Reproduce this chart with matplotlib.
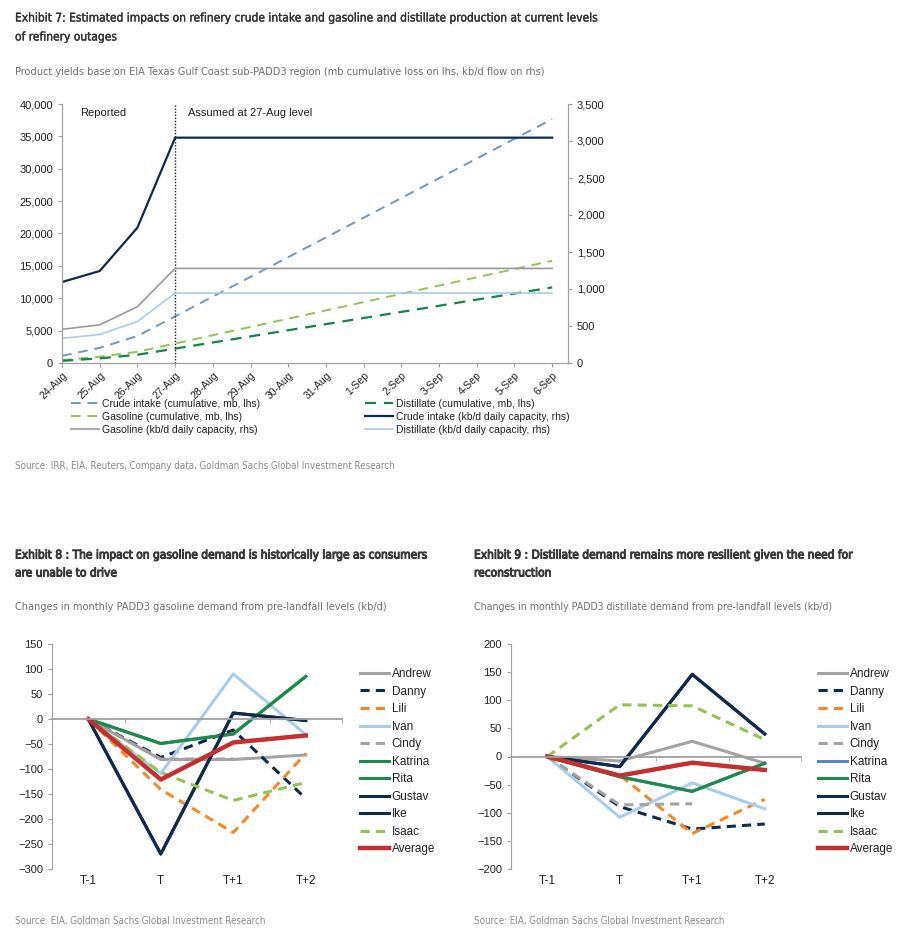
import numpy as np
import matplotlib
matplotlib.use("Agg")
import matplotlib.pyplot as plt
import matplotlib.transforms as mtransforms
import matplotlib.patheffects as pe
from matplotlib import font_manager

plt.rcParams['font.family'] = ['Liberation Sans', 'DejaVu Sans']

# pick a narrow face for titles if one is installed
cond = [f.fname for f in font_manager.fontManager.ttflist
        if 'Condensed' in f.fname or 'Narrow' in f.fname]
TITLE_PROPS = dict(family=['Roboto', 'DejaVu Sans'])
plain = [f for f in cond if not any(k in f for k in ('Bold', 'Oblique', 'Italic', 'Light', 'Thin'))]
if plain:
    TITLE_PROPS = dict(fontproperties=font_manager.FontProperties(fname=sorted(plain)[0]))

# ---- Exhibit 7 data ----
dates = ['24-Aug', '25-Aug', '26-Aug', '27-Aug', '28-Aug', '29-Aug', '30-Aug',
         '31-Aug', '1-Sep', '2-Sep', '3-Sep', '4-Sep', '5-Sep', '6-Sep']
# cumulative loss, lhs
crude_cum = [1100, 2340, 4170, 7210, 10260, 13300, 16350, 19390, 22440, 25480, 28530, 31570, 34620, 37660]
gasoline_cum = [455, 970, 1730, 3010, 4290, 5570, 6840, 8120, 9400, 10680, 11960, 13230, 14510, 15790]
distillate_cum = [333, 718, 1278, 2223, 3168, 4113, 5058, 6003, 6948, 7893, 8838, 9783, 10728, 11673]
# daily capacity, rhs
crude_cap = [1094, 1243, 1829, 3045, 3045, 3045, 3045, 3045, 3045, 3045, 3045, 3045, 3045, 3045]
gasoline_cap = [455, 516, 761, 1278, 1278, 1278, 1278, 1278, 1278, 1278, 1278, 1278, 1278, 1278]
distillate_cap = [333, 385, 560, 945, 945, 945, 945, 945, 945, 945, 945, 945, 945, 945]

# ---- Exhibit 8 / 9 data ----
periods = ['T-1', 'T', 'T+1', 'T+2']
storms = ['Andrew', 'Danny', 'Lili', 'Ivan', 'Cindy', 'Katrina', 'Rita', 'Gustav', 'Ike', 'Isaac', 'Average']
gasoline_demand = {
    'Andrew': [0, -81, -81, -72],
    'Danny': [0, -77, -22, -159],
    'Lili': [0, -141, -227, -69],
    'Ivan': [0, -109, 90, -31],
    'Cindy': [0, -80, -80, np.nan],
    'Katrina': [0, -49, -30, 85],
    'Rita': [0, -49, -30, 85],
    'Gustav': [0, -270, 12, -3],
    'Ike': [0, -270, 12, -3],
    'Isaac': [0, -107, -163, -127],
    'Average': [0, -121, -47, -33],
}
distillate_demand = {
    'Andrew': [0, -8, 27, -12],
    'Danny': [0, -89, -129, -120],
    'Lili': [0, -33, -137, -76],
    'Ivan': [0, -108, -47, -93],
    'Cindy': [0, -86, -84, np.nan],
    'Katrina': [0, -36, -62, -12],
    'Rita': [0, -36, -62, -12],
    'Gustav': [0, -18, 146, 40],
    'Ike': [0, -18, 146, 40],
    'Isaac': [0, 92, 90, 30],
    'Average': [0, -34, -11, -24],
}

NAVY = '#0e2a4e'
GRAY = '#a3a3a3'
LIGHTBLUE = '#a8cdeb'
ORANGE = '#f18a2a'
GREEN = '#1e8a4b'
LIGHTGREEN = '#92c353'
RED = '#c3302f'
STEEL = '#5b87c0'
AXIS_GRAY = '#a0a0a0'

W, H = 906, 942
fig = plt.figure(figsize=(W / 100, H / 100), dpi=100)


def rect(x0, y0, x1, y1):
    return [x0 / W, 1 - y1 / H, (x1 - x0) / W, (y1 - y0) / H]


def ftext(x, y, s, **kw):
    return fig.text(x / W, 1 - y / H, s, **TITLE_PROPS, **kw)


def fit(t, width):
    # shrink a text until it fits the reference width in pixels
    r = fig.canvas.get_renderer()
    for _ in range(30):
        if t.get_window_extent(r).width <= width:
            break
        t.set_fontsize(t.get_fontsize() * 0.97)


heavy = [pe.withStroke(linewidth=0.7, foreground='#3a3a3a')]
medium = [pe.withStroke(linewidth=0.25, foreground='#333333')]

# ---------------- Exhibit 7 ----------------
t = ftext(15, 18, 'Exhibit 7: Estimated impacts on refinery crude intake and gasoline and distillate production at current levels',
          fontsize=12, color='#333333', va='center', path_effects=medium)
fit(t, 600)
ftext(15, 37, 'of refinery outages', fontsize=t.get_fontsize(), color='#333333', va='center', path_effects=medium)
t = ftext(15, 72, 'Product yields base on EIA Texas Gulf Coast sub-PADD3 region (mb cumulative loss on lhs, kb/d flow on rhs)',
          fontsize=10, color='#6f6f6f', va='center')
fit(t, 535)
t = ftext(15, 466, 'Source: IRR, EIA, Reuters, Company data, Goldman Sachs Global Investment Research',
          fontsize=9.5, color='#8a8a8a', va='center')
fit(t, 387)

ax = fig.add_axes(rect(62, 104, 568, 363))
ax2 = ax.twinx()
x = np.arange(len(dates))
dash = (0, (5, 3.5))
h1, = ax.plot(x, crude_cum, color='#7096c9', lw=1.4, ls=dash)
h2, = ax.plot(x, gasoline_cum, color=LIGHTGREEN, lw=1.4, ls=dash)
h4, = ax.plot(x, distillate_cum, color='#16834a', lw=1.6, ls=dash)
h5, = ax2.plot(x, crude_cap, color=NAVY, lw=1.6)
h3, = ax2.plot(x, gasoline_cap, color='#9a9a9a', lw=1.2)
h6, = ax2.plot(x, distillate_cap, color=LIGHTBLUE, lw=1.2)
ax.axvline(3, color='#222222', lw=1.0, ls=(0, (1, 1.2)), zorder=5)

ax.set_xlim(0, 13.42)
ax.set_ylim(0, 40000)
ax2.set_ylim(0, 3500)
ax.set_yticks(np.arange(0, 40001, 5000))
ax.set_yticklabels([f'{v:,}' for v in range(0, 40001, 5000)])
ax2.set_yticks(np.arange(0, 3501, 500))
ax2.set_yticklabels([f'{v:,}' for v in range(0, 3501, 500)])
ax.set_xticks(x)
ax.set_xticklabels(dates, rotation=45, ha='right', rotation_mode='anchor')
for a in (ax, ax2):
    a.spines['top'].set_visible(False)
    for s in ('left', 'right', 'bottom'):
        a.spines[s].set_color(AXIS_GRAY)
    a.tick_params(colors=AXIS_GRAY, labelcolor='#222222', labelsize=8, length=3)
ax.tick_params(axis='x', labelsize=7.5, pad=2)
ax.text(0.47, 38600, 'Reported', fontsize=8, color='#222222', va='center')
ax.text(3.33, 38600, 'Assumed at 27-Aug level', fontsize=8, color='#222222', va='center')

leg_kw = dict(frameon=False, fontsize=7.5, handlelength=2.7, handletextpad=0.3,
              labelspacing=0.28, borderpad=0, borderaxespad=0, loc='upper left')
lg1 = fig.legend([h1, h2, h3], ['Crude intake (cumulative, mb, lhs)', 'Gasoline (cumulative, mb, lhs)',
                                'Gasoline (kb/d daily capacity, rhs)'],
                 bbox_to_anchor=(71 / W, 1 - 399 / H), **leg_kw)
lg2 = fig.legend([h4, h5, h6], ['Distillate (cumulative, mb, lhs)', 'Crude intake (kb/d daily capacity, rhs)',
                                'Distillate (kb/d daily capacity, rhs)'],
                 bbox_to_anchor=(365 / W, 1 - 399 / H), **leg_kw)
for lg in (lg1, lg2):
    for tx in lg.get_texts():
        tx.set_color('#222222')


# ---------------- Exhibits 8 and 9 ----------------
def styles(storm, katrina_color):
    return {
        'Andrew': dict(color=GRAY, lw=2.2),
        'Danny': dict(color=NAVY, lw=2.2, ls=(0, (3, 2))),
        'Lili': dict(color=ORANGE, lw=2.2, ls=(0, (3, 2))),
        'Ivan': dict(color=LIGHTBLUE, lw=2.2),
        'Cindy': dict(color=GRAY, lw=2.2, ls=(0, (3, 2))),
        'Katrina': dict(color=katrina_color, lw=2.2),
        'Rita': dict(color=GREEN, lw=2.2),
        'Gustav': dict(color=NAVY, lw=2.2),
        'Ike': dict(color=NAVY, lw=2.2),
        'Isaac': dict(color=LIGHTGREEN, lw=2.2, ls=(0, (3, 2))),
        'Average': dict(color=RED, lw=3.2),
    }[storm]


def demand_chart(x0, title1, title2, subtitle, data, ylim, ystep, katrina_color, legx, tw):
    t = ftext(x0, 555, title1, fontsize=12, color='#3a3a3a', va='center', path_effects=heavy)
    fit(t, tw)
    ftext(x0, 573, title2, fontsize=t.get_fontsize(), color='#3a3a3a', va='center', path_effects=heavy)
    t = ftext(x0, 607, subtitle, fontsize=10, color='#6f6f6f', va='center')
    fit(t, 372)
    t = ftext(x0, 921, 'Source: EIA, Goldman Sachs Global Investment Research',
              fontsize=9.5, color='#8a8a8a', va='center')
    fit(t, 253)
    axd = fig.add_axes(rect(x0 + 37, 644, x0 + 327, 869))
    xs = np.arange(len(periods))
    handles = []
    for s in storms:
        h, = axd.plot(xs, data[s], **styles(s, katrina_color))
        handles.append(h)
    axd.set_xlim(-0.5, 3.5)
    axd.set_ylim(*ylim)
    axd.set_yticks(np.arange(ylim[0], ylim[1] + 1, ystep))
    for sp in ('top', 'right'):
        axd.spines[sp].set_visible(False)
    axd.spines['left'].set_color(AXIS_GRAY)
    axd.spines['bottom'].set_position(('data', 0))
    axd.spines['bottom'].set_color(AXIS_GRAY)
    axd.spines['bottom'].set_linewidth(1.3)
    axd.set_xticks([])
    axd.set_xticks(np.arange(-0.5, 4, 1), minor=True)
    axd.tick_params(axis='x', which='minor', length=3, color=AXIS_GRAY, labelbottom=False)
    axd.tick_params(axis='y', length=3, color=AXIS_GRAY, labelsize=8, labelcolor='#222222')
    trans = mtransforms.blended_transform_factory(axd.transData, axd.transAxes)
    for i, p in enumerate(periods):
        axd.text(i, -0.055, p, transform=trans, ha='center', va='center', fontsize=8.5, color='#222222')
    lg = fig.legend(handles, storms, frameon=False, fontsize=8.5, handlelength=2.45, handletextpad=0.25,
                    labelspacing=0.47, borderpad=0, borderaxespad=0, loc='upper left',
                    bbox_to_anchor=(legx / W, 1 - 668 / H))
    for tx in lg.get_texts():
        tx.set_color('#222222')


demand_chart(15, 'Exhibit 8 : The impact on gasoline demand is historically large as consumers',
             'are unable to drive',
             'Changes in monthly PADD3 gasoline demand from pre-landfall levels (kb/d)',
             gasoline_demand, (-300, 150), 50, GREEN, 360, 422)
demand_chart(474, 'Exhibit 9 : Distillate demand remains more resilient given the need for',
             'reconstruction',
             'Changes in monthly PADD3 distillate demand from pre-landfall levels (kb/d)',
             distillate_demand, (-200, 200), 50, STEEL, 818, 384)

fig.savefig('out.png', dpi=100)
